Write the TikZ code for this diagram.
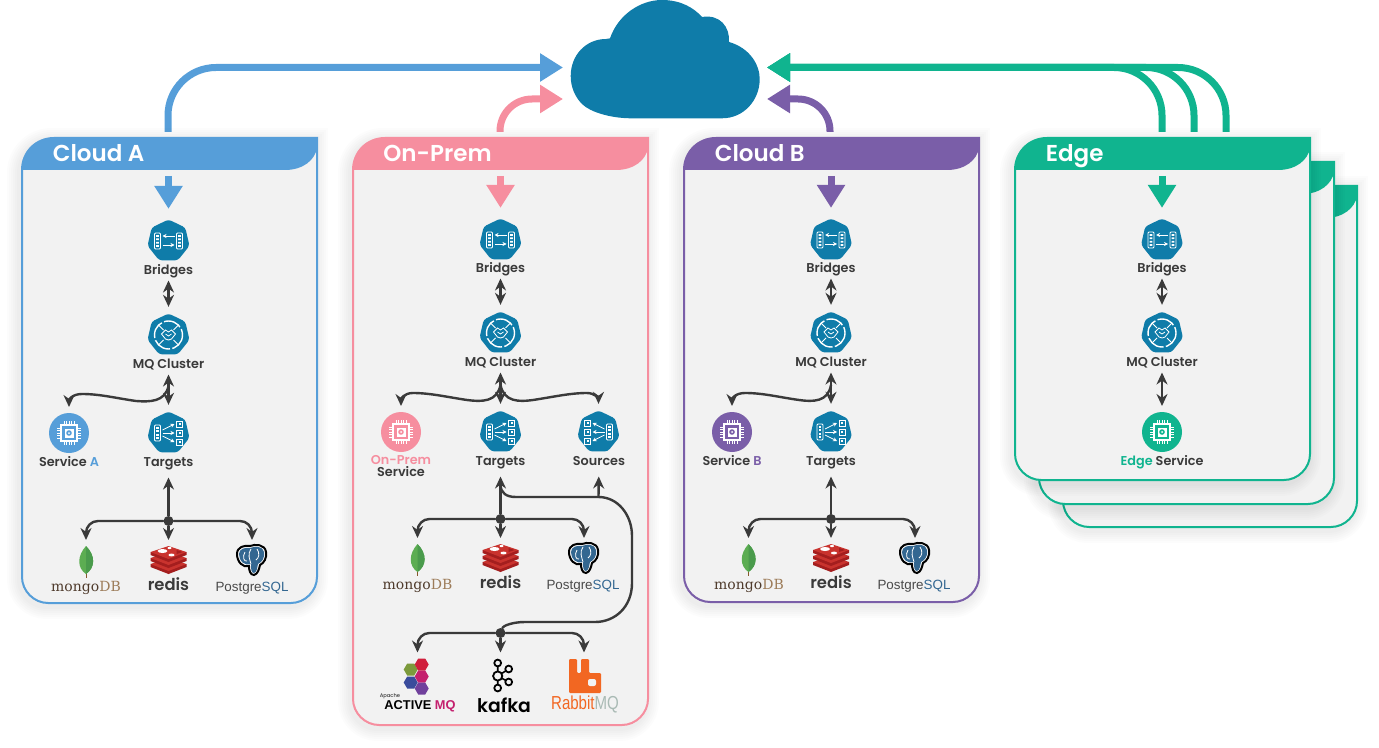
\documentclass[tikz,border=0pt]{standalone}
\usepackage{fontspec}
\setmainfont{Poppins}[UprightFont=* Medium, BoldFont=* SemiBold]
\newfontfamily\serifl{DejaVu Serif}
\newfontfamily\sansl{Liberation Sans}
\newfontfamily\rabbitl{Liberation Sans}[FakeStretch=0.8]
\usepackage{xcolor}
\usetikzlibrary{arrows.meta}
\usetikzlibrary{shapes.geometric}

\definecolor{cola}{HTML}{569ED9}
\definecolor{colp}{HTML}{F68E9F}
\definecolor{colb}{HTML}{7A5EA8}
\definecolor{cole}{HTML}{10B48F}
\definecolor{hepcol}{HTML}{0F7CA9}
\definecolor{panelbg}{HTML}{F2F2F2}
\definecolor{darktxt}{HTML}{3A3A3A}

\newcommand{\panelpath}[4]{(#1,#2+32) .. controls (#1,#2+14) and (#1+14,#2) .. (#1+32,#2) -- (#3,#2) -- (#3,#4-26) .. controls (#3,#4-12) and (#3-12,#4) .. (#3-26,#4) -- (#1+26,#4) .. controls (#1+12,#4) and (#1,#4-12) .. (#1,#4-26) -- cycle}
\newcommand{\panelbox}[5]{%
    \foreach \w in {3,5,7,9,11,13}
        \draw[black, opacity=.011, line width=\w pt] \panelpath{#1-2}{#2+3}{#3-2}{#4+3};
    \fill[panelbg] \panelpath{#1}{#2}{#3}{#4};
    \fill[#5] (#1,#2+32) .. controls (#1,#2+14) and (#1+14,#2) .. (#1+32,#2) -- (#3,#2) -- (#3,#2+10) .. controls (#3-2,#2+22) and (#3-14,#2+32) .. (#3-32,#2+32) -- cycle;
    \draw[#5, line width=1pt] \panelpath{#1}{#2}{#3}{#4};
}
\newcommand{\hexat}[3]{\fill[#3] (#1,#2) ++(-7,0) -- ++(3.5,-6) -- ++(7,0) -- ++(3.5,6) -- ++(-3.5,6) -- ++(-7,0) -- cycle;}

\tikzset{
    hepta/.style={regular polygon, regular polygon sides=7, minimum size=21.5pt, inner sep=0pt, outer sep=3pt, fill=hepcol, rounded corners=1.5pt},
    svc/.style={circle, minimum size=20pt, inner sep=0pt, outer sep=3pt, fill=#1},
    lbl/.style={font=\fontsize{6.4}{7}\selectfont\bfseries, text=darktxt, inner sep=0pt, outer sep=1.5pt, text height=6pt, text depth=1.5pt},
    title/.style={font=\fontsize{11.5}{12}\selectfont\bfseries, text=white, inner sep=0pt, anchor=west, text height=10.5pt, text depth=2pt},
    logobox/.style={minimum width=20pt, minimum height=20pt, inner sep=0pt, outer sep=0pt},
    busdot/.style={circle, fill=darktxt, minimum size=5pt, inner sep=0pt},
    dark/.style={draw=darktxt, line width=1.2pt, line cap=round},
    twoway/.style={dark, {Stealth[length=6pt,width=5.5pt]}-{Stealth[length=6pt,width=5.5pt]}},
    oneway/.style={dark, -{Stealth[length=6pt,width=5.5pt]}},
    bigarrow/.style={draw=#1, line width=3.5pt, -{Triangle[length=11.5pt,width=13.5pt]}},
    pics/bridgeglyph/.style={code={
        \draw[white, line width=.45pt, rounded corners=.5pt] (-14,-8) rectangle (-8,8) (8,-8) rectangle (14,8);
        \foreach \k in {-5,-1.7,1.7,5} \fill[white] (-12.3,\k-.9) rectangle (-9.7,\k+.9) (9.7,\k-.9) rectangle (12.3,\k+.9);
        \draw[white, line width=.4pt, -{Stealth[length=2pt,width=2pt]}] (6,-5) -- (-6,-5);
        \draw[white, line width=.4pt, -{Stealth[length=2pt,width=2pt]}] (-6,4) -- (6,4);
    }},
    pics/mqglyph/.style={code={
        \draw[white, line width=.7pt, dash pattern=on 9pt off 1.2pt] (0,0) circle (14);
        \draw[white, line width=.5pt] (-10,-10) -- (-5,-5) (10,-10) -- (5,-5) (-10,10) -- (-5,5) (10,10) -- (5,5);
        \draw[white, line width=.4pt] (-7,-1) -- (-3,-5) -- (0,-3) -- (3,-5) -- (7,-1) -- (3,4) -- (0,5) -- (-3,4) -- cycle (-3,-1) -- (0,1) -- (3,-1);
    }},
    pics/targetglyph/.style={code={
        \draw[white, line width=.45pt, rounded corners=.5pt] (-14,-8) rectangle (-8,8);
        \foreach \k in {-5,-1.7,1.7,5} \fill[white] (-12.3,\k-.9) rectangle (-9.7,\k+.9);
        \foreach \k in {-9,0,9} {
            \draw[white, line width=.4pt, -{Stealth[length=2pt,width=2pt]}] (-6,\k/3) -- (6,\k);
            \draw[white, line width=.5pt] (8,\k-3) rectangle (14,\k+3);
            \fill[white] (10,\k-1) rectangle (12,\k+1);
        }
    }},
    pics/chipglyph/.style={code={
        \foreach \k in {-5,-2.5,0,2.5,5} \draw[white, line width=.35pt] (\k,-12) -- (\k,12) (-12,\k) -- (12,\k);
        \fill[#1] (-8,-8) rectangle (8,8);
        \draw[white, line width=.8pt] (-8,-8) rectangle (8,8);
        \fill[white] (-4.5,-4.5) rectangle (4.5,4.5);
        \fill[#1] (0,0) circle (2.8);
        \fill[white] (0,0) circle (1);
    }},
    pics/mongoleaf/.style={code={
        \draw[brown!70!black, line width=.4pt] (0,10) -- (0,18);
        \fill[mleafl] (0,-14) .. controls (10,-4) and (9,8) .. (0,14) .. controls (-9,8) and (-9,-4) .. (0,-14);
        \fill[mleafd] (0,-14) .. controls (10,-4) and (9,8) .. (0,14) -- cycle;
    }},
    pics/redisglyph/.style={code={
        \foreach \k in {4,-2,-8} {
            \fill[redisd] (-18,\k) -- (-18,\k+3) -- (0,\k+10) -- (18,\k+3) -- (18,\k) -- cycle;
            \fill[redisl] (-18,\k) -- (0,\k-6) -- (18,\k) -- (0,\k+7) -- cycle;
        }
        \fill[white] (-6,-9) ellipse (5 and 2);
        \fill[white] (3,-5) ellipse (3 and 1.4);
        \fill[white] (1,-12) ellipse (2 and 1.2);
        \fill[redisd] (8,-10) -- (14,-8) -- (8,-6) -- cycle;
    }},
    pics/elephant/.style={code={
        \draw[black, line width=1pt, fill=white] (-15,-6) .. controls (-15,-13) and (-8,-15) .. (-2,-14) .. controls (3,-16) and (13,-16) .. (14,-8) .. controls (15,-2) and (12,3) .. (8,5) .. controls (7,9) and (6,14) .. (2,15) .. controls (-2,15) and (-3,10) .. (-3,6) .. controls (-9,8) and (-15,2) .. (-15,-6) -- cycle;
        \fill[pgblue] (-13,-6) .. controls (-13,-11) and (-7,-13) .. (-2,-12) .. controls (3,-14) and (11,-14) .. (12,-8) .. controls (13,-2) and (10,2) .. (6,4) .. controls (5,8) and (5,12) .. (2,13) .. controls (-1,13) and (-1,9) .. (-1,4) .. controls (-8,6) and (-13,1) .. (-13,-6) -- cycle;
        \draw[white, line width=.4pt] (-7,-8) .. controls (-10,-3) and (-8,2) .. (-5,1) (-1,-11) .. controls (-5,-6) and (-2,0) .. (-1,4) (5,-11) .. controls (8,-7) and (7,-2) .. (4,0);
    }},
    pics/hexcluster/.style={code={
        \hexat{-6}{-7}{amqolive}
        \hexat{-6}{6}{amqblue}
        \hexat{5}{-12}{amqred}
        \hexat{5}{0}{amqmag}
        \hexat{5}{12}{amqpur}
    }},
    pics/kafkaglyph/.style={code={
        \draw[black, line width=.8pt] (-4,-13) -- (-4,12) (-4,0) -- (7,-7) (-4,0) -- (7,6);
        \foreach \a/\b/\r in {-4/-13/3.4, -4/12/3.4, 7/-7/3.4, 7/6/3.4, -4/0/4.6}
            \draw[black, line width=.9pt, fill=panelbg] (\a,\b) circle (\r);
    }},
    pics/rabbitglyph/.style={code={
        \fill[rabbitor, rounded corners=.6pt] (-16,-17) -- (-8,-17) -- (-8,-3) -- (-4,-3) -- (-4,-17) -- (4,-17) -- (4,-3) -- (16,-3) -- (16,17) -- (-16,17) -- cycle;
        \fill[panelbg, rounded corners=1pt] (3,3) rectangle (11,10);
    }},
}
\definecolor{mleafl}{HTML}{5CAD52}
\definecolor{mleafd}{HTML}{4A9B4C}
\definecolor{redisd}{HTML}{A41E1E}
\definecolor{redisl}{HTML}{C9332E}
\definecolor{pgblue}{HTML}{336791}
\definecolor{amqolive}{HTML}{7C9A3C}
\definecolor{amqblue}{HTML}{3A4C9C}
\definecolor{amqred}{HTML}{D01F3C}
\definecolor{amqmag}{HTML}{C4206E}
\definecolor{amqpur}{HTML}{70409C}
\definecolor{rabbitor}{HTML}{F26722}
\definecolor{mongobr}{HTML}{4F3B2C}
\definecolor{mongotn}{HTML}{9C7B58}
\definecolor{rabbitgr}{HTML}{A9BAB4}
\definecolor{pggray}{HTML}{4A4A4A}

\newcommand{\mongotxt}{{\serifl\mdseries\fontsize{7}{8}\selectfont\textcolor{mongobr}{mongo}\textcolor{mongotn}{DB}}}
\newcommand{\redistxt}{{\fontsize{8.2}{10}\selectfont redis}}
\newcommand{\pgtxt}{{\sansl\mdseries\fontsize{6.7}{8}\selectfont\textcolor{pggray}{Postgre}\textcolor{pgblue}{SQL}}}

\begin{document}
\begin{tikzpicture}[x=.5pt, y=-.5pt]
    \useasboundingbox (0,0) rectangle (1379,748);

    \fill[hepcol] (570.7,76) .. controls (570.7,55) and (586,39) .. (606,39) -- (610,38.3) .. controls (618,15) and (640,0) .. (662,0) .. controls (681,0) and (694,8) .. (702,17) .. controls (720,14) and (730,27) .. (729,42) .. controls (750,48) and (759.7,65) .. (759.7,79) .. controls (759.7,100) and (744,118.3) .. (722,118.3) -- (630,118.3) .. controls (610,118) and (590,112) .. (582,104) .. controls (575,97) and (570.7,87) .. (570.7,76) -- cycle;

    \coordinate (cloudAin) at (563,67.5);
    \coordinate (cloudPin) at (563,99);
    \coordinate (cloudBin) at (767,99);
    \coordinate (cloudEin) at (767,67.5);
    \coordinate (upA) at (168,132);
    \coordinate (upP) at (500,132);
    \coordinate (upB) at (830,132);
    \coordinate (upEa) at (1162,132);
    \coordinate (upEb) at (1194,132);
    \coordinate (upEc) at (1226,132);

    \draw[bigarrow=cola, rounded corners=24pt] (upA) |- (cloudAin);
    \draw[bigarrow=colp, rounded corners=16pt] (upP) |- (cloudPin);
    \draw[bigarrow=colb, rounded corners=16pt] (upB) |- (cloudBin);
    \draw[bigarrow=cole, rounded corners=24pt] (upEa) |- (cloudEin);
    \draw[bigarrow=cole, rounded corners=24pt] (upEb) |- (cloudEin);
    \draw[bigarrow=cole, rounded corners=24pt] (upEc) |- (cloudEin);

    \panelbox{1063}{186}{1357}{527}{cole}
    \panelbox{1039}{162}{1334}{504}{cole}
    \panelbox{1015}{138}{1310}{480}{cole}
    \panelbox{22}{138}{317}{603}{cola}
    \panelbox{353}{138}{648}{725}{colp}
    \panelbox{684}{138}{979}{602}{colb}

    % Cloud A
    \draw (52.5,153) node[title] (titleA) {Cloud A};
    \coordinate (inA) at (168.5,176);
    \draw (168.5,241) node[hepta] (bridgesA) {};
    \draw (168.5,270) node[lbl] (bridgesAlbl) {Bridges};
    \draw (168.5,335) node[hepta] (mqA) {};
    \draw (168.5,364) node[lbl] (mqAlbl) {MQ Cluster};
    \draw (168.5,433) node[hepta] (targetsA) {};
    \draw (168.5,462) node[lbl] (targetsAlbl) {Targets};
    \draw (69,433) node[svc=cola] (svcA) {};
    \draw (69,462) node[lbl] (svcAlbl) {Service \textcolor{cola}{A}};
    \draw (168.5,521) node[busdot] (busA) {};
    \draw (86,560) node[logobox] (mongoA) {};
    \draw (168.5,560) node[logobox] (redisA) {};
    \draw (252,560) node[logobox] (pgA) {};
    \draw (86,587) node[lbl] (mongoAlbl) {\mongotxt};
    \draw (168.5,586) node[lbl] (redisAlbl) {\redistxt};
    \draw (252,587) node[lbl] (pgAlbl) {\pgtxt};
    \coordinate (forkA) at (168.5,386);
    \pic at (bridgesA) {bridgeglyph};
    \pic at (mqA) {mqglyph};
    \pic at (targetsA) {targetglyph};
    \pic at (svcA) {chipglyph=cola};
    \pic at (mongoA) {mongoleaf};
    \pic at (redisA) {redisglyph};
    \pic at (pgA) {elephant};
    \draw[bigarrow=cola, shorten >=2pt] (inA) -- (bridgesA);
    \draw[twoway] (bridgesAlbl) -- (mqA);
    \draw[twoway] (mqAlbl) -- (targetsA);
    \draw[oneway] (forkA) .. controls (165,402) and (150,402) .. (136,401) .. controls (115,398) and (100,394) .. (82,394) .. controls (72,394) and (69,400) .. (svcA.north);
    \draw[oneway, shorten >=2.5pt] (busA) -- (targetsAlbl);
    \draw[oneway, rounded corners=6pt] (busA) -| (mongoA);
    \draw[oneway] (busA) -- (redisA);
    \draw[oneway, rounded corners=6pt] (busA) -| (pgA);

    % On-Prem
    \draw (383,153) node[title] (titleP) {On-Prem};
    \coordinate (inP) at (500.5,176);
    \draw (500.5,240) node[hepta] (bridgesP) {};
    \draw (500.5,268) node[lbl] (bridgesPlbl) {Bridges};
    \draw (500.5,333) node[hepta] (mqP) {};
    \draw (500.5,362) node[lbl] (mqPlbl) {MQ Cluster};
    \draw (500.5,432) node[hepta] (targetsP) {};
    \draw (500.5,461) node[lbl] (targetsPlbl) {Targets};
    \draw (598.5,432) node[hepta] (sourcesP) {};
    \draw (599,461) node[lbl] (sourcesPlbl) {Sources};
    \draw (401,432) node[svc=colp] (svcP) {};
    \draw (401,461) node[lbl, text height=4.5pt, text depth=1pt] (svcPlbl) {\textcolor{colp}{On-Prem}};
    \draw (401,472.5) node[lbl, text height=4.5pt, text depth=1pt] (svcPlblb) {Service};
    \draw (500.5,519) node[busdot] (busP) {};
    \draw (417.5,558) node[logobox] (mongoP) {};
    \draw (500.5,558) node[logobox] (redisP) {};
    \draw (584,558) node[logobox] (pgP) {};
    \draw (417.5,585) node[lbl] (mongoPlbl) {\mongotxt};
    \draw (500.5,584) node[lbl] (redisPlbl) {\redistxt};
    \draw (583,585) node[lbl] (pgPlbl) {\pgtxt};
    \draw (500.5,633) node[busdot] (busQ) {};
    \draw (417.5,672.5) node[logobox] (amqP) {};
    \draw (500.5,672.5) node[logobox] (kafkaP) {};
    \draw (584,672.5) node[logobox] (rabbitP) {};
    \draw (420,705.5) node[lbl, text height=5pt] (amqPlbl) {{\sansl\fontsize{6.4}{7}\selectfont\bfseries\color{black}ACTIVE \textcolor{amqmag}{MQ}}};
    \draw (390,696.5) node[lbl, font=\fontsize{2.6}{3}\selectfont, text height=1.6pt, text depth=.4pt, outer sep=0pt] (amqPtop) {Apache};
    \draw (504,707) node[lbl, text height=7pt, text depth=1.5pt] (kafkaPlbl) {{\fontsize{9.4}{11}\selectfont\color{black}kafka}};
    \draw (585,705) node[lbl] (rabbitPlbl) {{\rabbitl\mdseries\fontsize{9.4}{10}\selectfont\textcolor{rabbitor}{Rabbit}\textcolor{rabbitgr}{MQ}}};
    \coordinate (forkP) at (500.5,385);
    \coordinate (branchP) at (500.5,485);
    \coordinate (branchS) at (598.5,497);
    \pic at (bridgesP) {bridgeglyph};
    \pic at (mqP) {mqglyph};
    \pic at (targetsP) {targetglyph};
    \pic[xscale=-1] at (sourcesP) {targetglyph};
    \pic at (svcP) {chipglyph=colp};
    \pic at (mongoP) {mongoleaf};
    \pic at (redisP) {redisglyph};
    \pic at (pgP) {elephant};
    \pic at (416.7,676.5) {hexcluster};
    \pic at (501.7,676) {kafkaglyph};
    \pic at (585,676) {rabbitglyph};
    \draw[bigarrow=colp, shorten >=2pt] (inP) -- (bridgesP);
    \draw[twoway] (bridgesPlbl) -- (mqP);
    \draw[twoway] (mqPlbl) -- (targetsP);
    \draw[oneway] (forkP) .. controls (497,402) and (482,402) .. (467,400) .. controls (447,397) and (430,393) .. (413,393) .. controls (404,393) and (401,399) .. (svcP.north);
    \draw[oneway] (forkP) .. controls (504,402) and (519,402) .. (533,400) .. controls (553,397) and (570,393) .. (587,393) .. controls (595,393) and (598.5,399) .. (sourcesP.north);
    \draw[oneway, shorten >=2.5pt] (busP) -- (targetsPlbl);
    \draw[oneway, rounded corners=6pt] (busP) -| (mongoP);
    \draw[oneway] (busP) -- (redisP);
    \draw[oneway, rounded corners=6pt] (busP) -| (pgP);
    \draw[dark] (branchP) .. controls (501,493) and (506,497) .. (516,497) -- (branchS) .. controls (618,497) and (632,515) .. (632,536) -- (632,583) .. controls (632,607) and (615,622) .. (595,622) -- (525,622) .. controls (512,622) and (503,626) .. (busQ);
    \draw[oneway, shorten >=2.5pt] (branchS) -- (sourcesPlbl);
    \draw[oneway, rounded corners=6pt] (busQ) -| (amqP);
    \draw[oneway] (busQ) -- (kafkaP);
    \draw[oneway, rounded corners=6pt] (busQ) -| (rabbitP);

    % Cloud B
    \draw (714.5,153) node[title] (titleB) {Cloud B};
    \coordinate (inB) at (831,176);
    \draw (831,240) node[hepta] (bridgesB) {};
    \draw (831,268) node[lbl] (bridgesBlbl) {Bridges};
    \draw (831,333) node[hepta] (mqB) {};
    \draw (831,362) node[lbl] (mqBlbl) {MQ Cluster};
    \draw (831,432) node[hepta] (targetsB) {};
    \draw (831,461) node[lbl] (targetsBlbl) {Targets};
    \draw (732,432) node[svc=colb] (svcB) {};
    \draw (732,461) node[lbl] (svcBlbl) {Service \textcolor{colb}{B}};
    \draw (831,519) node[busdot] (busB) {};
    \draw (748.5,558) node[logobox] (mongoB) {};
    \draw (831,558) node[logobox] (redisB) {};
    \draw (915,558) node[logobox] (pgB) {};
    \draw (749,585) node[lbl] (mongoBlbl) {\mongotxt};
    \draw (831,584) node[lbl] (redisBlbl) {\redistxt};
    \draw (914,585) node[lbl] (pgBlbl) {\pgtxt};
    \coordinate (forkB) at (831,385);
    \pic at (bridgesB) {bridgeglyph};
    \pic at (mqB) {mqglyph};
    \pic at (targetsB) {targetglyph};
    \pic at (svcB) {chipglyph=colb};
    \pic at (mongoB) {mongoleaf};
    \pic at (redisB) {redisglyph};
    \pic at (pgB) {elephant};
    \draw[bigarrow=colb, shorten >=2pt] (inB) -- (bridgesB);
    \draw[twoway] (bridgesBlbl) -- (mqB);
    \draw[twoway] (mqBlbl) -- (targetsB);
    \draw[oneway] (forkB) .. controls (828,402) and (813,402) .. (799,400) .. controls (778,397) and (763,393) .. (745,393) .. controls (735,393) and (732,399) .. (svcB.north);
    \draw[oneway, shorten >=2.5pt] (busB) -- (targetsBlbl);
    \draw[oneway, rounded corners=6pt] (busB) -| (mongoB);
    \draw[oneway] (busB) -- (redisB);
    \draw[oneway, rounded corners=6pt] (busB) -| (pgB);

    % Edge
    \draw (1045.5,153) node[title] (titleE) {Edge};
    \coordinate (inE) at (1162,176);
    \draw (1162,240) node[hepta] (bridgesE) {};
    \draw (1162,268) node[lbl] (bridgesElbl) {Bridges};
    \draw (1162,333) node[hepta] (mqE) {};
    \draw (1162,362) node[lbl] (mqElbl) {MQ Cluster};
    \draw (1162,432) node[svc=cole] (svcE) {};
    \draw (1162,461) node[lbl] (svcElbl) {\textcolor{cole}{Edge} Service};
    \pic at (bridgesE) {bridgeglyph};
    \pic at (mqE) {mqglyph};
    \pic at (svcE) {chipglyph=cole};
    \draw[bigarrow=cole, shorten >=2pt] (inE) -- (bridgesE);
    \draw[twoway] (bridgesElbl) -- (mqE);
    \draw[twoway] (mqElbl) -- (svcE);
\end{tikzpicture}
\end{document}
